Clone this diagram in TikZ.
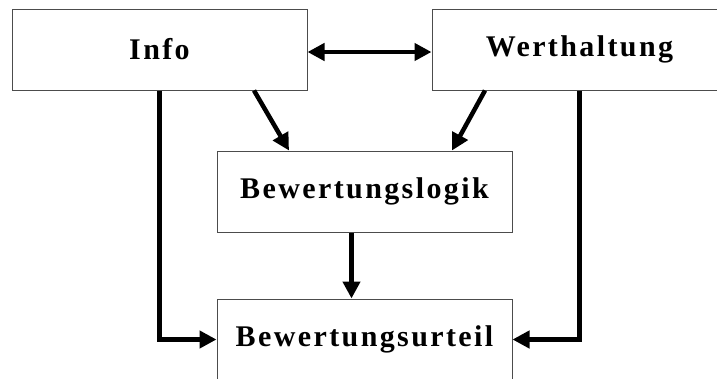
\documentclass[tikz,border=0pt]{standalone}
\usepackage{fontspec}
\setmainfont{Liberation Serif}[LetterSpace=8]
\usetikzlibrary{arrows.meta}
\begin{document}
\begin{tikzpicture}[x=1pt,y=-1pt,
  box/.style={draw=black!70, line width=1pt, fill=white, minimum width=295pt,
    minimum height=81pt, inner sep=0pt, font=\fontsize{30}{36}\selectfont\bfseries},
  tip/.style={Triangle[length=17pt,width=17pt]},
  flow/.style={line width=4.5pt, -{Triangle[length=17pt,width=17pt]}},
  both/.style={line width=4.5pt, {Triangle[length=17pt,width=17pt]}-{Triangle[length=17pt,width=17pt]}}]
\useasboundingbox (0,0) rectangle (717,378);
\clip (0,0) rectangle (717,378);
\node[box] (info) at (159.5,49.5) {Info};
\node[box] (wert) at (579.5,49.5) {Werthaltung};
\node[box] (logik) at (364.5,191.5) {Bewertungslogik};
\node[box] (urteil) at (364.5,339.5) {Bewertungsurteil};
% links between the boxes
\draw[both] ([yshift=-2.5pt]info.east) -- ([yshift=-2.5pt]wert.west);
\draw[flow] ([xshift=94.5pt]info.south) -- ([xshift=-75.5pt]logik.north);
\draw[flow] ([xshift=-94.5pt]wert.south) -- ([xshift=87.5pt]logik.north);
\draw[flow] ([xshift=-13pt]logik.south) -- ([xshift=-13pt]urteil.north);
\draw[flow] (info.south) |- (urteil.west);
\draw[flow] (wert.south) |- (urteil.east);
\end{tikzpicture}
\end{document}
